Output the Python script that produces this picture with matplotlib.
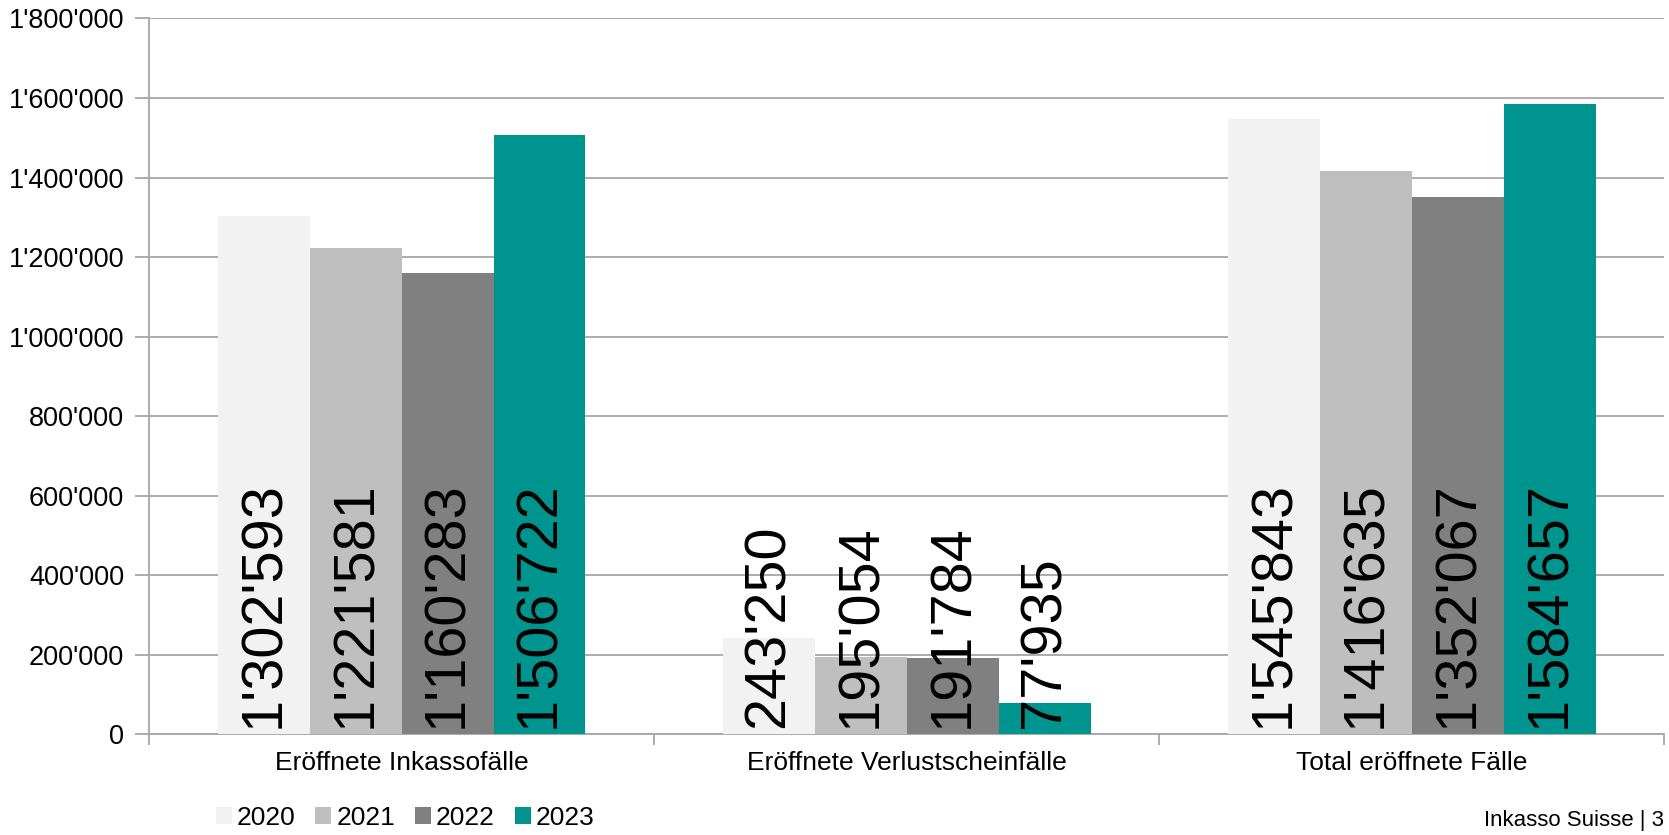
import matplotlib
matplotlib.use("Agg")
import matplotlib.pyplot as plt
import numpy as np
from matplotlib.ticker import FuncFormatter

plt.rcParams['font.family'] = ['Liberation Sans', 'DejaVu Sans']

categories = ["Eröffnete Inkassofälle", "Eröffnete Verlustscheinfälle", "Total eröffnete Fälle"]
years = ["2020", "2021", "2022", "2023"]
v2020 = [1302593, 243250, 1545843]
v2021 = [1221581, 195054, 1416635]
v2022 = [1160283, 191784, 1352067]
v2023 = [1506722, 77935, 1584657]
colors = ["#f2f2f2", "#bfbfbf", "#808080", "#00948f"]


def swiss(v, pos=None):
    return f"{int(v):,}".replace(",", "'")


fig = plt.figure(figsize=(16.69, 8.35), dpi=100)
ax = fig.add_axes([0.0893, 0.1204, 0.908, 0.8576])

x = np.arange(len(categories))
w = 0.182
series = [v2020, v2021, v2022, v2023]
for i, (vals, c, yr) in enumerate(zip(series, colors, years)):
    pos = x + (i - 1.5) * w
    ax.bar(pos, vals, width=w, color=c, label=yr, zorder=3)
    for p, v in zip(pos, vals):
        ax.annotate(swiss(v), (p, 0), xytext=(0, 5), textcoords="offset points",
                    rotation=90, ha="center", va="bottom", fontsize=41.5, zorder=4)

ax.set_xlim(-0.5, 2.5)
ax.set_ylim(0, 1800000)
ax.set_yticks(np.arange(0, 1800001, 200000))
ax.yaxis.set_major_formatter(FuncFormatter(swiss))
ax.grid(axis="y", color="#a6a6a6", linewidth=1.3, zorder=0)

ax.set_xticks(x)
ax.set_xticklabels(categories, fontsize=19)
ax.set_xticks([-0.5, 0.5, 1.5, 2.5], minor=True)
ax.tick_params(axis="x", which="major", length=0, pad=12)
ax.tick_params(axis="x", which="minor", length=8, color="#a6a6a6", width=1.3)
ax.tick_params(axis="y", labelsize=19.5, length=10, color="#a6a6a6", width=1.3, pad=8)

for s in ["top", "right"]:
    ax.spines[s].set_visible(False)
for s in ["left", "bottom"]:
    ax.spines[s].set_color("#a6a6a6")
    ax.spines[s].set_linewidth(1.3)

fig.legend(loc="lower left", bbox_to_anchor=(0.115, -0.022), ncol=4, frameon=False,
           fontsize=19, handlelength=0.6, handleheight=0.6, handletextpad=0.2,
           columnspacing=0.75)

fig.text(0.997, 0.005, "Inkasso Suisse | 3", ha="right", va="bottom", fontsize=16)

fig.savefig("out.png", dpi=100)
